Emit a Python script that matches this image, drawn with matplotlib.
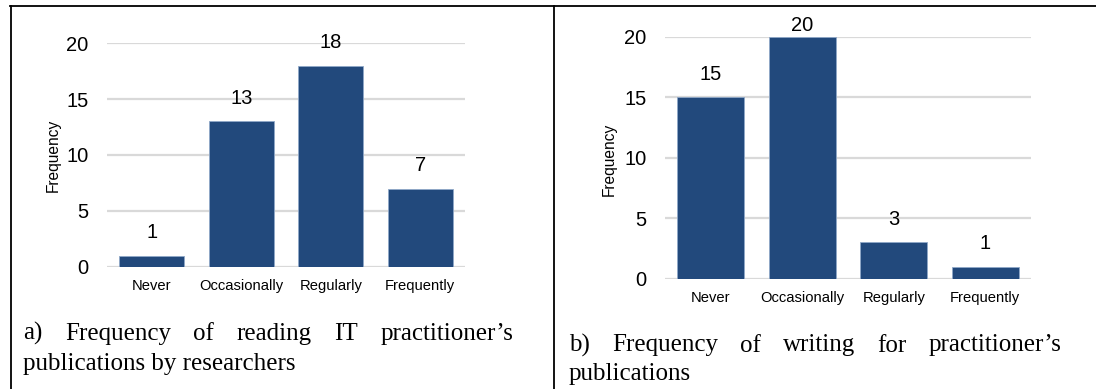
import matplotlib
matplotlib.use("Agg")
import matplotlib.pyplot as plt
from matplotlib.lines import Line2D

W, H = 1096, 389

categories = ["Never", "Occasionally", "Regularly", "Frequently"]
reading_counts = [1, 13, 18, 7]
writing_counts = [15, 20, 3, 1]
y_ticks = [0, 5, 10, 15, 20]

caption_a = ["a)", "Frequency", "of", "reading", "IT", "practitioner\u2019s"]
caption_a2 = "publications by researchers"
caption_b = ["b)", "Frequency", "of", "writing", "for", "practitioner\u2019s"]
caption_b2 = "publications"

BAR = "#22497C"
EDGE = "#8FA8C8"
GRID = "#D9D9D9"
SANS = "Liberation Sans"
SERIF = "Liberation Serif"
CAPTION_SIZE = 18


def px(x, y):
    """Pixel position (top-left origin) -> figure fraction."""
    return x / W, 1 - y / H


def draw_bars(ax, values):
    xs = range(len(categories))
    ax.bar(xs, values, width=0.73, color=BAR, edgecolor=EDGE, linewidth=0.6, zorder=3)
    top = y_ticks[-1]
    for i, v in zip(xs, values):
        # keep labels inside the plot like the spreadsheet does
        anchor = min(v, top - 0.95)
        ax.annotate(str(v), xy=(i, anchor), xytext=(0, 16.5), textcoords="offset points",
                    ha="center", va="center", fontsize=14.5, family=SANS, color="#000000")
    ax.set_xlim(-0.5, len(categories) - 0.5)
    ax.set_ylim(0, top)
    ax.set_yticks(y_ticks)
    ax.set_xticks(list(xs))
    ax.set_xticklabels(categories, family=SANS, fontsize=10.6)
    for lab in ax.get_yticklabels():
        lab.set_family(SANS)
        lab.set_fontsize(14.5)
    ax.tick_params(axis="y", length=0, pad=13.5)
    ax.tick_params(axis="x", length=0, pad=9)
    ax.grid(axis="y", color=GRID, linewidth=1.6, zorder=0)
    ax.set_axisbelow(True)
    for s in ax.spines.values():
        s.set_visible(False)
    ax.set_ylabel("Frequency", family=SANS, fontsize=11.2)


def justify(fig, renderer, words, x0, x1, y):
    texts = [fig.text(0, 0, w, family=SERIF, fontsize=CAPTION_SIZE, va="baseline") for w in words]
    widths = [t.get_window_extent(renderer).width for t in texts]
    gap = (x1 - x0 - sum(widths)) / (len(words) - 1)
    x = x0
    for t, w in zip(texts, widths):
        t.set_position(px(x, y))
        x += w + gap


fig = plt.figure(figsize=(W / 100, H / 100), dpi=100)
fig.patch.set_facecolor("white")

l, t = px(107, 43.3)
r, b = px(465, 266.7)
ax1 = fig.add_axes([l, b, r - l, t - b])
draw_bars(ax1, reading_counts)
ax1.yaxis.set_label_coords((61 - 107) / 358, 1 - (155 - 43.3) / 223.4)

l, t = px(665, 36.7)
r, b = px(1031, 278.7)
ax2 = fig.add_axes([l, b, r - l, t - b])
draw_bars(ax2, writing_counts)
ax2.yaxis.set_label_coords((617 - 665) / 366, 1 - (159 - 36.7) / 242)

# table frame around the two figures
for xs_, ys_ in [((10, 1096), (6, 6)), ((10.5, 10.5), (6, 389)), ((554, 554), (6, 389))]:
    fx = [x / W for x in xs_]
    fy = [1 - y / H for y in ys_]
    fig.add_artist(Line2D(fx, fy, color="black", linewidth=1.3, transform=fig.transFigure))

renderer = fig.canvas.get_renderer()
justify(fig, renderer, caption_a, 23, 513, 340)
fig.text(*px(23, 370), caption_a2, family=SERIF, fontsize=CAPTION_SIZE, va="baseline")
justify(fig, renderer, caption_b, 569, 1061, 351.5)
fig.text(*px(569, 380), caption_b2, family=SERIF, fontsize=CAPTION_SIZE, va="baseline")

fig.savefig("out.png", dpi=100)
